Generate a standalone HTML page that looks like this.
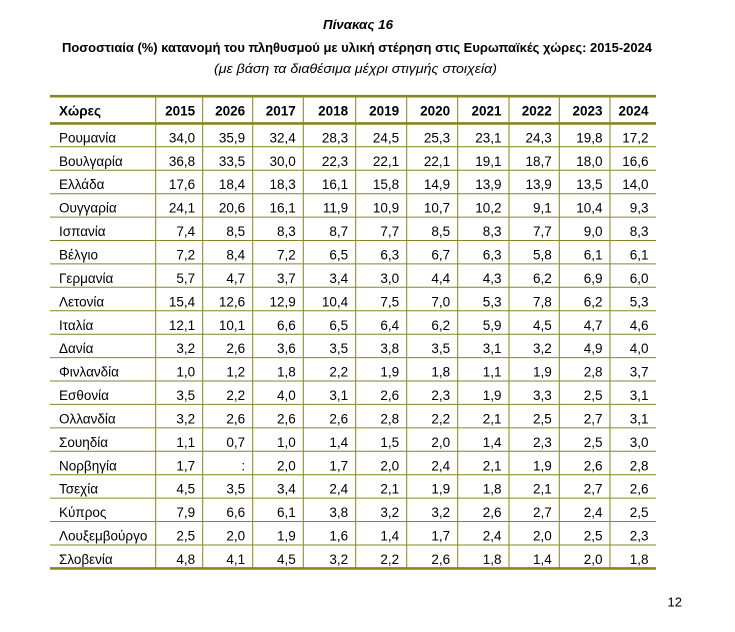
<!DOCTYPE html>
<html><head><meta charset="utf-8">
<style>
html,body{margin:0;padding:0;background:#fff;width:735px;height:632px;overflow:hidden}
svg{display:block}
text{font-family:"Liberation Sans","DejaVu Sans",sans-serif;fill:#000;font-size:13.5px}
.t{font-size:13px}
.b{font-weight:bold}
</style></head><body>
<svg width="735" height="632" viewBox="0 0 735 632" xmlns="http://www.w3.org/2000/svg">
<text x="323" y="29" class="b t" font-style="italic" textLength="70" lengthAdjust="spacingAndGlyphs">Πίνακας 16</text>
<text x="62" y="52" class="b t" textLength="590" lengthAdjust="spacingAndGlyphs">Ποσοστιαία (%) κατανομή του πληθυσμού με υλική στέρηση στις Ευρωπαϊκές χώρες: 2015-2024</text>
<text x="214" y="73" class="t" font-style="italic" textLength="283" lengthAdjust="spacingAndGlyphs">(με βάση τα διαθέσιμα μέχρι στιγμής στοιχεία)</text>

<g stroke="#868622" stroke-width="1">
<line x1="155.7" y1="96" x2="155.7" y2="568.4"/>
<line x1="202.7" y1="96" x2="202.7" y2="568.4"/>
<line x1="252.7" y1="96" x2="252.7" y2="568.4"/>
<line x1="303.3" y1="96" x2="303.3" y2="568.4"/>
<line x1="355.7" y1="96" x2="355.7" y2="568.4"/>
<line x1="406.7" y1="96" x2="406.7" y2="568.4"/>
<line x1="457.7" y1="96" x2="457.7" y2="568.4"/>
<line x1="509" y1="96" x2="509" y2="568.4"/>
<line x1="559.3" y1="96" x2="559.3" y2="568.4"/>
<line x1="610" y1="96" x2="610" y2="568.4"/>
<line x1="50" y1="146.8" x2="656" y2="146.8"/>
<line x1="50" y1="170.2" x2="656" y2="170.2"/>
<line x1="50" y1="193.7" x2="656" y2="193.7"/>
<line x1="50" y1="217.1" x2="656" y2="217.1"/>
<line x1="50" y1="240.5" x2="656" y2="240.5"/>
<line x1="50" y1="263.9" x2="656" y2="263.9"/>
<line x1="50" y1="287.3" x2="656" y2="287.3"/>
<line x1="50" y1="310.8" x2="656" y2="310.8"/>
<line x1="50" y1="334.2" x2="656" y2="334.2"/>
<line x1="50" y1="357.6" x2="656" y2="357.6"/>
<line x1="50" y1="381.0" x2="656" y2="381.0"/>
<line x1="50" y1="404.4" x2="656" y2="404.4"/>
<line x1="50" y1="427.9" x2="656" y2="427.9"/>
<line x1="50" y1="451.3" x2="656" y2="451.3"/>
<line x1="50" y1="474.7" x2="656" y2="474.7"/>
<line x1="50" y1="498.1" x2="656" y2="498.1"/>
<line x1="50" y1="521.5" x2="656" y2="521.5"/>
<line x1="50" y1="545.0" x2="656" y2="545.0"/>
</g>
<g stroke="#868622" stroke-width="2.6">
<line x1="50" y1="96.2" x2="656" y2="96.2"/>
<line x1="50" y1="123.4" x2="656" y2="123.4"/>
<line x1="50" y1="568.4" x2="656" y2="568.4"/>
</g>

<!-- header -->
<text x="59" y="115.5" class="b">Χώρες</text>
<g class="b" text-anchor="end">
<text x="195.2" y="115.5">2015</text>
<text x="245.2" y="115.5">2026</text>
<text x="295.8" y="115.5">2017</text>
<text x="348.2" y="115.5">2018</text>
<text x="399.2" y="115.5">2019</text>
<text x="450.2" y="115.5">2020</text>
<text x="501.5" y="115.5">2021</text>
<text x="551.8" y="115.5">2022</text>
<text x="602.5" y="115.5">2023</text>
<text x="648.5" y="115.5">2024</text>
</g>

<!-- country names -->
<g>
<text x="59" y="142.4">Ρουμανία</text>
<text x="59" y="165.8">Βουλγαρία</text>
<text x="59" y="189.2">Ελλάδα</text>
<text x="59" y="212.7">Ουγγαρία</text>
<text x="59" y="236.1">Ισπανία</text>
<text x="59" y="259.5">Βέλγιο</text>
<text x="59" y="282.9">Γερμανία</text>
<text x="59" y="306.3">Λετονία</text>
<text x="59" y="329.8">Ιταλία</text>
<text x="59" y="353.2">Δανία</text>
<text x="59" y="376.6">Φινλανδία</text>
<text x="59" y="400.0">Εσθονία</text>
<text x="59" y="423.4">Ολλανδία</text>
<text x="59" y="446.9">Σουηδία</text>
<text x="59" y="470.3">Νορβηγία</text>
<text x="59" y="493.7">Τσεχία</text>
<text x="59" y="517.1">Κύπρος</text>
<text x="59" y="540.5">Λουξεμβούργο</text>
<text x="59" y="564.0">Σλοβενία</text>
</g>

<!-- columns -->
<text text-anchor="end"><tspan x="195.2" y="142.4">34,0</tspan><tspan x="195.2" y="165.8">36,8</tspan><tspan x="195.2" y="189.2">17,6</tspan><tspan x="195.2" y="212.7">24,1</tspan><tspan x="195.2" y="236.1">7,4</tspan><tspan x="195.2" y="259.5">7,2</tspan><tspan x="195.2" y="282.9">5,7</tspan><tspan x="195.2" y="306.3">15,4</tspan><tspan x="195.2" y="329.8">12,1</tspan><tspan x="195.2" y="353.2">3,2</tspan><tspan x="195.2" y="376.6">1,0</tspan><tspan x="195.2" y="400.0">3,5</tspan><tspan x="195.2" y="423.4">3,2</tspan><tspan x="195.2" y="446.9">1,1</tspan><tspan x="195.2" y="470.3">1,7</tspan><tspan x="195.2" y="493.7">4,5</tspan><tspan x="195.2" y="517.1">7,9</tspan><tspan x="195.2" y="540.5">2,5</tspan><tspan x="195.2" y="564.0">4,8</tspan></text>

<text text-anchor="end"><tspan x="245.2" y="142.4">35,9</tspan><tspan x="245.2" y="165.8">33,5</tspan><tspan x="245.2" y="189.2">18,4</tspan><tspan x="245.2" y="212.7">20,6</tspan><tspan x="245.2" y="236.1">8,5</tspan><tspan x="245.2" y="259.5">8,4</tspan><tspan x="245.2" y="282.9">4,7</tspan><tspan x="245.2" y="306.3">12,6</tspan><tspan x="245.2" y="329.8">10,1</tspan><tspan x="245.2" y="353.2">2,6</tspan><tspan x="245.2" y="376.6">1,2</tspan><tspan x="245.2" y="400.0">2,2</tspan><tspan x="245.2" y="423.4">2,6</tspan><tspan x="245.2" y="446.9">0,7</tspan><tspan x="245.2" y="470.3">:</tspan><tspan x="245.2" y="493.7">3,5</tspan><tspan x="245.2" y="517.1">6,6</tspan><tspan x="245.2" y="540.5">2,0</tspan><tspan x="245.2" y="564.0">4,1</tspan></text>

<text text-anchor="end"><tspan x="295.8" y="142.4">32,4</tspan><tspan x="295.8" y="165.8">30,0</tspan><tspan x="295.8" y="189.2">18,3</tspan><tspan x="295.8" y="212.7">16,1</tspan><tspan x="295.8" y="236.1">8,3</tspan><tspan x="295.8" y="259.5">7,2</tspan><tspan x="295.8" y="282.9">3,7</tspan><tspan x="295.8" y="306.3">12,9</tspan><tspan x="295.8" y="329.8">6,6</tspan><tspan x="295.8" y="353.2">3,6</tspan><tspan x="295.8" y="376.6">1,8</tspan><tspan x="295.8" y="400.0">4,0</tspan><tspan x="295.8" y="423.4">2,6</tspan><tspan x="295.8" y="446.9">1,0</tspan><tspan x="295.8" y="470.3">2,0</tspan><tspan x="295.8" y="493.7">3,4</tspan><tspan x="295.8" y="517.1">6,1</tspan><tspan x="295.8" y="540.5">1,9</tspan><tspan x="295.8" y="564.0">4,5</tspan></text>

<text text-anchor="end"><tspan x="348.2" y="142.4">28,3</tspan><tspan x="348.2" y="165.8">22,3</tspan><tspan x="348.2" y="189.2">16,1</tspan><tspan x="348.2" y="212.7">11,9</tspan><tspan x="348.2" y="236.1">8,7</tspan><tspan x="348.2" y="259.5">6,5</tspan><tspan x="348.2" y="282.9">3,4</tspan><tspan x="348.2" y="306.3">10,4</tspan><tspan x="348.2" y="329.8">6,5</tspan><tspan x="348.2" y="353.2">3,5</tspan><tspan x="348.2" y="376.6">2,2</tspan><tspan x="348.2" y="400.0">3,1</tspan><tspan x="348.2" y="423.4">2,6</tspan><tspan x="348.2" y="446.9">1,4</tspan><tspan x="348.2" y="470.3">1,7</tspan><tspan x="348.2" y="493.7">2,4</tspan><tspan x="348.2" y="517.1">3,8</tspan><tspan x="348.2" y="540.5">1,6</tspan><tspan x="348.2" y="564.0">3,2</tspan></text>

<text text-anchor="end"><tspan x="399.2" y="142.4">24,5</tspan><tspan x="399.2" y="165.8">22,1</tspan><tspan x="399.2" y="189.2">15,8</tspan><tspan x="399.2" y="212.7">10,9</tspan><tspan x="399.2" y="236.1">7,7</tspan><tspan x="399.2" y="259.5">6,3</tspan><tspan x="399.2" y="282.9">3,0</tspan><tspan x="399.2" y="306.3">7,5</tspan><tspan x="399.2" y="329.8">6,4</tspan><tspan x="399.2" y="353.2">3,8</tspan><tspan x="399.2" y="376.6">1,9</tspan><tspan x="399.2" y="400.0">2,6</tspan><tspan x="399.2" y="423.4">2,8</tspan><tspan x="399.2" y="446.9">1,5</tspan><tspan x="399.2" y="470.3">2,0</tspan><tspan x="399.2" y="493.7">2,1</tspan><tspan x="399.2" y="517.1">3,2</tspan><tspan x="399.2" y="540.5">1,4</tspan><tspan x="399.2" y="564.0">2,2</tspan></text>

<text text-anchor="end"><tspan x="450.2" y="142.4">25,3</tspan><tspan x="450.2" y="165.8">22,1</tspan><tspan x="450.2" y="189.2">14,9</tspan><tspan x="450.2" y="212.7">10,7</tspan><tspan x="450.2" y="236.1">8,5</tspan><tspan x="450.2" y="259.5">6,7</tspan><tspan x="450.2" y="282.9">4,4</tspan><tspan x="450.2" y="306.3">7,0</tspan><tspan x="450.2" y="329.8">6,2</tspan><tspan x="450.2" y="353.2">3,5</tspan><tspan x="450.2" y="376.6">1,8</tspan><tspan x="450.2" y="400.0">2,3</tspan><tspan x="450.2" y="423.4">2,2</tspan><tspan x="450.2" y="446.9">2,0</tspan><tspan x="450.2" y="470.3">2,4</tspan><tspan x="450.2" y="493.7">1,9</tspan><tspan x="450.2" y="517.1">3,2</tspan><tspan x="450.2" y="540.5">1,7</tspan><tspan x="450.2" y="564.0">2,6</tspan></text>

<text text-anchor="end"><tspan x="501.5" y="142.4">23,1</tspan><tspan x="501.5" y="165.8">19,1</tspan><tspan x="501.5" y="189.2">13,9</tspan><tspan x="501.5" y="212.7">10,2</tspan><tspan x="501.5" y="236.1">8,3</tspan><tspan x="501.5" y="259.5">6,3</tspan><tspan x="501.5" y="282.9">4,3</tspan><tspan x="501.5" y="306.3">5,3</tspan><tspan x="501.5" y="329.8">5,9</tspan><tspan x="501.5" y="353.2">3,1</tspan><tspan x="501.5" y="376.6">1,1</tspan><tspan x="501.5" y="400.0">1,9</tspan><tspan x="501.5" y="423.4">2,1</tspan><tspan x="501.5" y="446.9">1,4</tspan><tspan x="501.5" y="470.3">2,1</tspan><tspan x="501.5" y="493.7">1,8</tspan><tspan x="501.5" y="517.1">2,6</tspan><tspan x="501.5" y="540.5">2,4</tspan><tspan x="501.5" y="564.0">1,8</tspan></text>

<text text-anchor="end"><tspan x="551.8" y="142.4">24,3</tspan><tspan x="551.8" y="165.8">18,7</tspan><tspan x="551.8" y="189.2">13,9</tspan><tspan x="551.8" y="212.7">9,1</tspan><tspan x="551.8" y="236.1">7,7</tspan><tspan x="551.8" y="259.5">5,8</tspan><tspan x="551.8" y="282.9">6,2</tspan><tspan x="551.8" y="306.3">7,8</tspan><tspan x="551.8" y="329.8">4,5</tspan><tspan x="551.8" y="353.2">3,2</tspan><tspan x="551.8" y="376.6">1,9</tspan><tspan x="551.8" y="400.0">3,3</tspan><tspan x="551.8" y="423.4">2,5</tspan><tspan x="551.8" y="446.9">2,3</tspan><tspan x="551.8" y="470.3">1,9</tspan><tspan x="551.8" y="493.7">2,1</tspan><tspan x="551.8" y="517.1">2,7</tspan><tspan x="551.8" y="540.5">2,0</tspan><tspan x="551.8" y="564.0">1,4</tspan></text>

<text text-anchor="end"><tspan x="602.5" y="142.4">19,8</tspan><tspan x="602.5" y="165.8">18,0</tspan><tspan x="602.5" y="189.2">13,5</tspan><tspan x="602.5" y="212.7">10,4</tspan><tspan x="602.5" y="236.1">9,0</tspan><tspan x="602.5" y="259.5">6,1</tspan><tspan x="602.5" y="282.9">6,9</tspan><tspan x="602.5" y="306.3">6,2</tspan><tspan x="602.5" y="329.8">4,7</tspan><tspan x="602.5" y="353.2">4,9</tspan><tspan x="602.5" y="376.6">2,8</tspan><tspan x="602.5" y="400.0">2,5</tspan><tspan x="602.5" y="423.4">2,7</tspan><tspan x="602.5" y="446.9">2,5</tspan><tspan x="602.5" y="470.3">2,6</tspan><tspan x="602.5" y="493.7">2,7</tspan><tspan x="602.5" y="517.1">2,4</tspan><tspan x="602.5" y="540.5">2,5</tspan><tspan x="602.5" y="564.0">2,0</tspan></text>

<text text-anchor="end"><tspan x="648.5" y="142.4">17,2</tspan><tspan x="648.5" y="165.8">16,6</tspan><tspan x="648.5" y="189.2">14,0</tspan><tspan x="648.5" y="212.7">9,3</tspan><tspan x="648.5" y="236.1">8,3</tspan><tspan x="648.5" y="259.5">6,1</tspan><tspan x="648.5" y="282.9">6,0</tspan><tspan x="648.5" y="306.3">5,3</tspan><tspan x="648.5" y="329.8">4,6</tspan><tspan x="648.5" y="353.2">4,0</tspan><tspan x="648.5" y="376.6">3,7</tspan><tspan x="648.5" y="400.0">3,1</tspan><tspan x="648.5" y="423.4">3,1</tspan><tspan x="648.5" y="446.9">3,0</tspan><tspan x="648.5" y="470.3">2,8</tspan><tspan x="648.5" y="493.7">2,6</tspan><tspan x="648.5" y="517.1">2,5</tspan><tspan x="648.5" y="540.5">2,3</tspan><tspan x="648.5" y="564.0">1,8</tspan></text>

<text x="682" y="606.5" class="t" text-anchor="end">12</text>
</svg>
</body></html>
